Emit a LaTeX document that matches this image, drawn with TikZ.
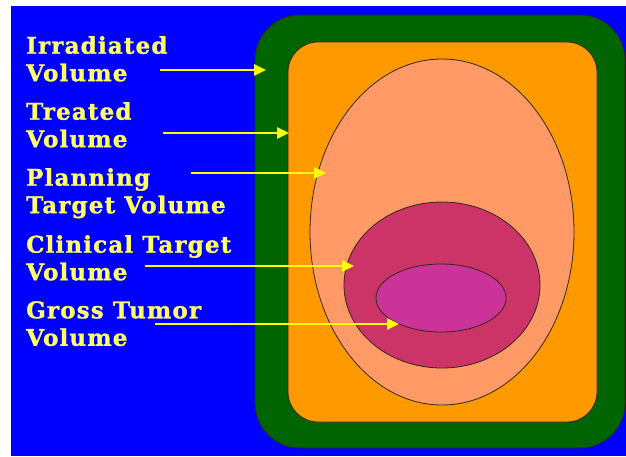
\documentclass[tikz,border=0pt]{standalone}
\usepackage{fontspec}
\setmainfont{DejaVu Serif}[BoldFeatures={FakeBold=1.2,LetterSpace=5}]
\usetikzlibrary{arrows.meta,shapes.geometric}
\definecolor{bgblue}{RGB}{0,0,255}
\definecolor{irrgreen}{RGB}{0,100,0}
\definecolor{treatorange}{RGB}{255,153,0}
\definecolor{ptvpeach}{RGB}{255,153,102}
\definecolor{ctvpink}{RGB}{204,51,102}
\definecolor{gtvmagenta}{RGB}{204,51,153}
\definecolor{labyellow}{RGB}{255,255,102}
\definecolor{arryellow}{RGB}{255,255,0}
\definecolor{edge}{RGB}{50,40,30}
\tikzset{
  zone/.style={draw=edge, line width=0.8pt, inner sep=0pt},
  lab/.style={text=labyellow, font=\fontsize{23}{27.5}\selectfont\bfseries, align=left, anchor=north west, inner sep=0pt},
  pointer/.style={draw=arryellow, line width=2.6pt, -{Triangle[length=12pt,width=11pt]}}
}
\begin{document}
\begin{tikzpicture}[x=1pt,y=-1pt]
\useasboundingbox (0,0) rectangle (626,456);
\fill[bgblue] (11,6) rectangle (626,456);
\node[zone, rectangle, rounded corners=45pt, fill=irrgreen, minimum width=370pt, minimum height=433pt] (irr) at (440,231.5) {};
\node[zone, rectangle, rounded corners=30pt, fill=treatorange, minimum width=309pt, minimum height=380pt] (treat) at (442.5,232) {};
\node[zone, ellipse, fill=ptvpeach, minimum width=264pt, minimum height=346pt] (ptv) at (442,232) {};
\node[zone, ellipse, fill=ctvpink, minimum width=196pt, minimum height=166pt] (ctv) at (442,285) {};
\node[zone, ellipse, fill=gtvmagenta, minimum width=130pt, minimum height=68pt] (gtv) at (441,298) {};

\node[lab] (l1) at (26,36) {Irradiated\\Volume};
\node[lab] (l2) at (26,102) {Treated\\Volume};
\node[lab] (l3) at (26,168) {Planning\\Target Volume};
\node[lab] (l4) at (26,235) {Clinical Target\\Volume};
\node[lab] (l5) at (26,301) {Gross Tumor\\Volume};

\coordinate (s1) at (160,70);  \coordinate (e1) at (266,70);
\coordinate (s2) at (163,133); \coordinate (e2) at (289,133);
\coordinate (s3) at (191,173); \coordinate (e3) at (326,173);
\coordinate (s4) at (145,266); \coordinate (e4) at (354,266);
\coordinate (s5) at (155,324); \coordinate (e5) at (399,324);
\draw[pointer] (s1) -- (e1);
\draw[pointer] (s2) -- (e2);
\draw[pointer] (s3) -- (e3);
\draw[pointer] (s4) -- (e4);
\draw[pointer] (s5) -- (e5);
\end{tikzpicture}
\end{document}
